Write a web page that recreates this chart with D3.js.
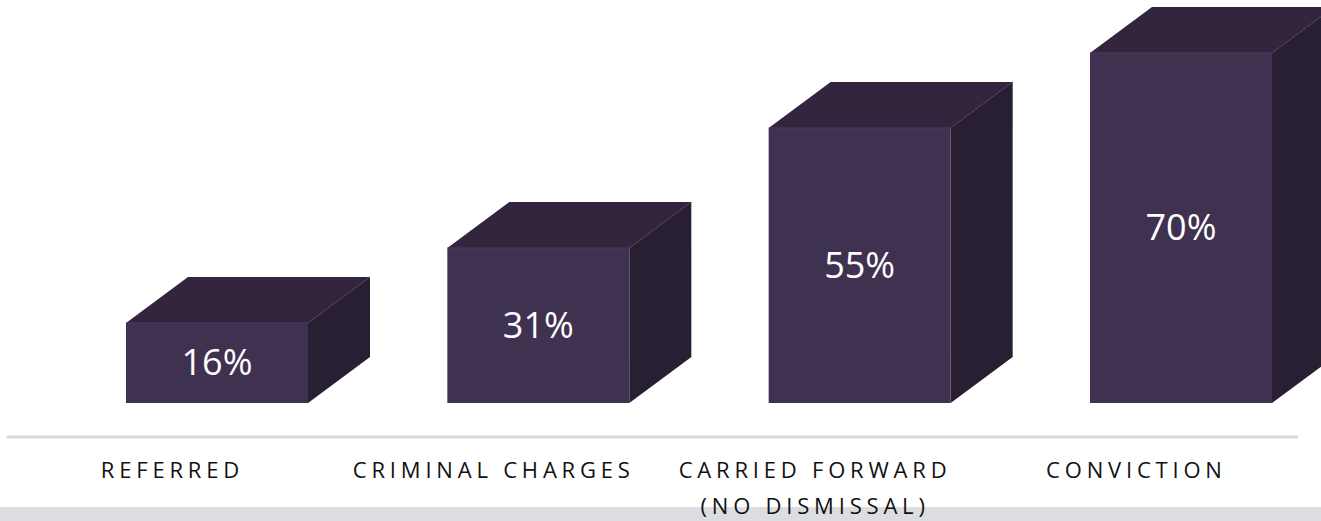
<!DOCTYPE html>
<html>
<head>
<meta charset="utf-8">
<script src="https://cdn.jsdelivr.net/npm/d3@7"></script>
<style>
  html, body { margin: 0; padding: 0; background: #fff; }
  svg { display: block; }
  text { font-family: "Open Sans", "Noto Sans", sans-serif; }
</style>
</head>
<body>
<div id="chart"></div>
<script>
'use strict';

// Data
var categories = ['REFERRED', 'CRIMINAL CHARGES', 'CARRIED FORWARD|(NO DISMISSAL)', 'CONVICTION'];
var values = [16, 31, 55, 70];
var valueLabels = ['16%', '31%', '55%', '70%'];

// Layout
var W = 1321, H = 521;
var baseY = 403, topY = 53;      // y of 0% and of the largest bar
var faceW = 182;                 // front face width
var depthX = 62, depthY = 46;    // 3d offset of the back face
var labelShift = -47;            // category label centre vs front face centre
var spacing = 4.8;

var colors = { front: '#3f3150', top: '#33253e', side: '#281f33', edge: '#4b3d5e' };

var svg = d3.select('#chart').append('svg')
  .attr('width', W)
  .attr('height', H);

var x = d3.scalePoint()
  .domain(categories)
  .range([126, 1090]);

var y = d3.scaleLinear()
  .domain([0, d3.max(values)])
  .range([baseY, topY]);

// bottom grey band
svg.append('rect')
  .attr('x', 0).attr('y', 507)
  .attr('width', W).attr('height', H - 507)
  .attr('fill', '#dcdde0');

// axis line
svg.append('line')
  .attr('x1', 8).attr('x2', 1297)
  .attr('y1', 437).attr('y2', 437)
  .attr('stroke', '#d9d9d9')
  .attr('stroke-width', 3)
  .attr('stroke-linecap', 'round');

var bars = svg.selectAll('g.bar')
  .data(categories.map(function(c, i) { return { cat: c, v: values[i], label: valueLabels[i], i: i }; }))
  .enter().append('g')
  .attr('class', 'bar');

function pts(a) { return a.map(function(p) { return p.join(','); }).join(' '); }

// side face
bars.append('polygon')
  .attr('points', function(d) {
    var x0 = x(d.cat) + faceW, yt = y(d.v);
    return pts([[x0, yt], [x0 + depthX, yt - depthY], [x0 + depthX, baseY - depthY], [x0, baseY]]);
  })
  .attr('fill', colors.side);

// top face
bars.append('polygon')
  .attr('points', function(d) {
    var x0 = x(d.cat), yt = y(d.v);
    return pts([[x0, yt], [x0 + depthX, yt - depthY], [x0 + faceW + depthX, yt - depthY], [x0 + faceW, yt]]);
  })
  .attr('fill', colors.top);

// front face
bars.append('rect')
  .attr('x', function(d) { return x(d.cat); })
  .attr('y', function(d) { return y(d.v); })
  .attr('width', faceW)
  .attr('height', function(d) { return baseY - y(d.v); })
  .attr('fill', colors.front);

// faint highlight on the front edges
bars.append('path')
  .attr('d', function(d) {
    var x0 = x(d.cat), yt = y(d.v);
    return 'M' + x0 + ',' + yt + 'L' + (x0 + faceW) + ',' + yt + 'L' + (x0 + faceW + depthX) + ',' + (yt - depthY);
  })
  .attr('fill', 'none')
  .attr('stroke', colors.edge)
  .attr('stroke-width', 1);

// value labels
bars.append('text')
  .attr('x', function(d) { return x(d.cat) + faceW / 2; })
  .attr('y', function(d) { return (y(d.v) + baseY) / 2 + 12; })
  .attr('text-anchor', 'middle')
  .attr('fill', '#ffffff')
  .attr('font-size', 36)
  .text(function(d) { return d.label; });

// category labels
var labels = svg.selectAll('text.cat')
  .data(categories)
  .enter().append('text')
  .attr('class', 'cat')
  .attr('text-anchor', 'middle')
  .attr('font-size', 22)
  .attr('letter-spacing', spacing + 'px')
  .attr('fill', '#111111')
  .attr('transform', function(d) {
    return 'translate(' + (x(d) + faceW / 2 + labelShift + spacing / 2) + ',478)';
  });

labels.selectAll('tspan')
  .data(function(d) { return d.split('|'); })
  .enter().append('tspan')
  .attr('x', 0)
  .attr('dy', function(d, i) { return i ? 36 : 0; })
  .text(function(d) { return d; });
</script>
</body>
</html>
